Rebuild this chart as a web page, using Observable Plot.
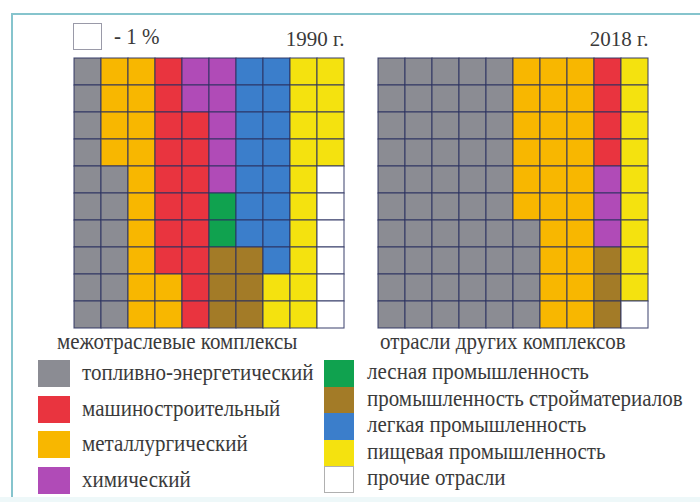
<!DOCTYPE html>
<html>
<head>
<meta charset="utf-8">
<script src="https://cdn.jsdelivr.net/npm/d3@7"></script>
<script src="https://cdn.jsdelivr.net/npm/@observablehq/plot@0.6"></script>
<style>
  html, body { margin: 0; padding: 0; background: #fff; }
  #wrap { position: relative; width: 700px; height: 502px; overflow: hidden; font-family: "Liberation Serif", "Times New Roman", serif; color: #3a3a3a; }
  #frame { position: absolute; left: 11px; top: 13px; width: 720px; height: 520px; border-left: 2.5px solid #86c4cd; border-top: 2.5px solid #86c4cd; box-sizing: border-box; }
  #bottomband { position: absolute; left: 0; top: 497px; width: 700px; height: 5px; background: #eef8f9; }
  #chart { position: absolute; left: 0; top: 0; }
  .lbl { position: absolute; white-space: nowrap; font-size: 21px; line-height: 1; transform-origin: left center; transform: translateY(-50%) scaleY(1.06); }
  .sw { position: absolute; box-sizing: border-box; }
</style>
</head>
<body>
<div id="wrap">
  <div id="frame"></div>
  <div id="bottomband"></div>
  <div id="chart"></div>
</div>
<script>
// ---- data ----
const categoryCodes = ["g", "r", "o", "p", "f", "b", "l", "y", "w"];
const categoryNames = [
  "топливно-энергетический",
  "машиностроительный",
  "металлургический",
  "химический",
  "лесная промышленность",
  "промышленность стройматериалов",
  "легкая промышленность",
  "пищевая промышленность",
  "прочие отрасли"
];
const categoryColors = ["#8b8c93", "#e9343f", "#f8b700", "#b04bb7", "#10a24f", "#a37b27", "#3b7ecb", "#f4e20f", "#ffffff"];
const years = ["1990", "2018"];
const yearLabels = ["1990 г.", "2018 г."];
// each string = one column of the 10x10 waffle, top to bottom; 1 cell = 1 %
const grid1990 = ["gggggggggg", "oooogggggg", "oooooooooo", "rrrrrrrroo", "pprrrrrrrr", "pppppffbbb", "lllllllbbb", "llllllllyy", "yyyyyyyyyy", "yyyywwwwww"];
const grid2018 = ["gggggggggg", "gggggggggg", "gggggggggg", "gggggggggg", "gggggggggg", "oooooogggg", "oooooooooo", "oooooooooo", "rrrrpppbbb", "yyyyyyyyyw"];
const groupTitles = ["межотраслевые комплексы", "отрасли других комплексов"];
const unitLabel = "- 1 %";

// ---- build table ----
const cells = [];
[grid1990, grid2018].forEach((grid, gi) => {
  grid.forEach((colStr, c) => {
    [...colStr].forEach((code, r) => {
      cells.push({year: years[gi], col: c, row: r, cat: code});
    });
  });
});
const idx = d3.range(10);

const plot = Plot.plot({
  width: 700,
  height: 345,
  marginLeft: 73,
  marginRight: 52,
  marginTop: 58,
  marginBottom: 17,
  fx: {domain: years, paddingInner: 0.112, paddingOuter: 0, axis: null},
  x: {domain: idx, padding: 0, axis: null},
  y: {domain: idx, padding: 0, axis: null},
  color: {domain: categoryCodes, range: categoryColors},
  style: {fontFamily: "Liberation Serif, serif", background: "transparent"},
  marks: [
    Plot.cell(cells, {fx: "year", x: "col", y: "row", fill: "cat", stroke: "#2c3260", strokeWidth: 1.1, strokeOpacity: 0.85}),
    Plot.text(years.map((y, i) => ({year: y, label: yearLabels[i]})), {
      fx: "year", text: "label", frameAnchor: "top-right", lineAnchor: "middle", dy: -19,
      fontSize: 21, fill: "#3a3a3a"
    })
  ]
});
document.getElementById("chart").appendChild(plot);

// ---- html annotations & legend ----
const wrap = d3.select("#wrap");
function label(text, x, y) {
  wrap.append("div").attr("class", "lbl").style("left", x + "px").style("top", y + "px").text(text);
}
function swatch(x, y, w, h, color, border) {
  wrap.append("div").attr("class", "sw")
    .style("left", x + "px").style("top", y + "px")
    .style("width", w + "px").style("height", h + "px")
    .style("background", color)
    .style("border", border || "none");
}
// unit legend
swatch(73, 23, 29, 27, "#fff", "1.5px solid #9a9aa8");
label(unitLabel, 114, 37);
// group titles
label(groupTitles[0], 57, 342);
label(groupTitles[1], 380, 342);
// left legend column (first 4 categories)
for (let i = 0; i < 4; i++) {
  const top = 360 + i * 35.7;
  swatch(38, top, 32, 27, categoryColors[i]);
  label(categoryNames[i], 82, top + 13);
}
// right legend column (remaining categories, stacked)
for (let i = 4; i < 9; i++) {
  const k = i - 4;
  const top = 360 + k * 26.6;
  swatch(324, top, 30, 26.6, categoryColors[i], categoryCodes[i] === "w" ? "1px solid #b0b0b0" : "none");
  label(categoryNames[i], 367, top + 12);
}
</script>
</body>
</html>
